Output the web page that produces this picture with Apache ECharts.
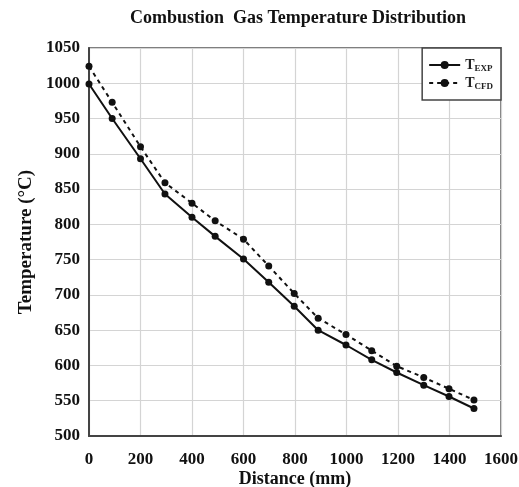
<!DOCTYPE html>
<html>
<head>
<meta charset="utf-8">
<script src="https://cdn.jsdelivr.net/npm/echarts@6/dist/echarts.min.js"></script>
<style>
  html, body { margin: 0; padding: 0; background: #fff; }
  #chart { width: 519px; height: 487px; }
</style>
</head>
<body>
<div id="chart"></div>
<script>
// Distance along the duct (mm) and gas temperatures (°C)
const distance = [0, 90, 200, 295, 400, 490, 600, 698, 797, 890, 998, 1098, 1195, 1300, 1398, 1495];
const tExp = [999, 950, 893, 843, 810, 783, 751, 718, 684, 650, 629, 608, 590, 572, 556, 539];
const tCfd = [1024, 973, 910, 859, 830, 805, 779, 741, 702, 667, 644, 621, 599, 583, 567, 551];

const xTicks = [0, 200, 400, 600, 800, 1000, 1200, 1400, 1600];
const yTicks = [500, 550, 600, 650, 700, 750, 800, 850, 900, 950, 1000, 1050];

const serif = '"Liberation Serif", "DejaVu Serif", serif';

function pairs(xs, ys) {
  return xs.map((x, i) => [x, ys[i]]);
}

const chart = echarts.init(document.getElementById('chart'), null, { renderer: 'canvas' });

chart.setOption({
  backgroundColor: '#ffffff',
  animation: false,
  title: {
    text: 'Combustion  Gas Temperature Distribution',
    left: 293,
    textAlign: 'center',
    top: 4,
    textStyle: { fontFamily: serif, fontWeight: 'bold', fontSize: 18, color: '#111' }
  },
  grid: {
    left: 89, right: 18, top: 48, bottom: 51, containLabel: false,
    outerBoundsMode: 'none',
    show: true, borderColor: '#555', borderWidth: 1.5, backgroundColor: 'transparent'
  },
  legend: {
    right: 18,
    top: 48,
    orient: 'vertical',
    itemWidth: 31,
    itemHeight: 10,
    itemGap: 3,
    padding: [10, 8, 9, 6],
    borderColor: '#444',
    borderWidth: 1.5,
    backgroundColor: '#fff',
    data: ['EXP', 'CFD'],
    formatter: name => '{t|T}{s|' + name + '}',
    textStyle: {
      rich: {
        t: { fontFamily: serif, fontWeight: 'bold', fontSize: 14, color: '#222' },
        s: { fontFamily: serif, fontWeight: 'bold', fontSize: 9, color: '#222', padding: [7, 0, 0, 0] }
      }
    }
  },
  xAxis: {
    type: 'value',
    min: 0,
    max: 1600,
    interval: 200,
    name: 'Distance (mm)',
    nameLocation: 'middle',
    nameGap: 34,
    nameMoveOverlap: false,
    nameTextStyle: { fontFamily: serif, fontWeight: 'bold', fontSize: 18, color: '#111' },
    axisLine: { show: true, onZero: false, lineStyle: { color: '#444', width: 2 } },
    axisTick: { show: false },
    axisLabel: { fontFamily: serif, fontWeight: 'bold', fontSize: 17, color: '#111', margin: 15,
      formatter: v => xTicks.includes(v) ? String(v) : '' },
    splitLine: { show: true, lineStyle: { color: '#d4d4d4', width: 1.2 } }
  },
  yAxis: {
    type: 'value',
    min: 500,
    max: 1050,
    interval: 50,
    name: 'Temperature (°C)',
    nameLocation: 'middle',
    nameGap: 53,
    nameMoveOverlap: false,
    nameRotate: 90,
    nameTextStyle: { fontFamily: serif, fontWeight: 'bold', fontSize: 19, color: '#111' },
    axisLine: { show: true, onZero: false, lineStyle: { color: '#444', width: 2 } },
    axisTick: { show: false },
    axisLabel: { fontFamily: serif, fontWeight: 'bold', fontSize: 17, color: '#111', margin: 9,
      formatter: v => yTicks.includes(v) ? String(v) : '' },
    splitLine: { show: true, lineStyle: { color: '#d4d4d4', width: 1.2 } }
  },
  series: [
    {
      name: 'EXP',
      type: 'line',
      data: pairs(distance, tExp),
      symbol: 'circle',
      symbolSize: 7,
      itemStyle: { color: '#111' },
      lineStyle: { color: '#111', width: 2, type: 'solid' },
      z: 3
    },
    {
      name: 'CFD',
      type: 'line',
      data: pairs(distance, tCfd),
      symbol: 'circle',
      symbolSize: 7,
      itemStyle: { color: '#111' },
      lineStyle: { color: '#111', width: 2, type: [4, 4] },
      z: 2
    }
  ]
});
</script>
</body>
</html>
